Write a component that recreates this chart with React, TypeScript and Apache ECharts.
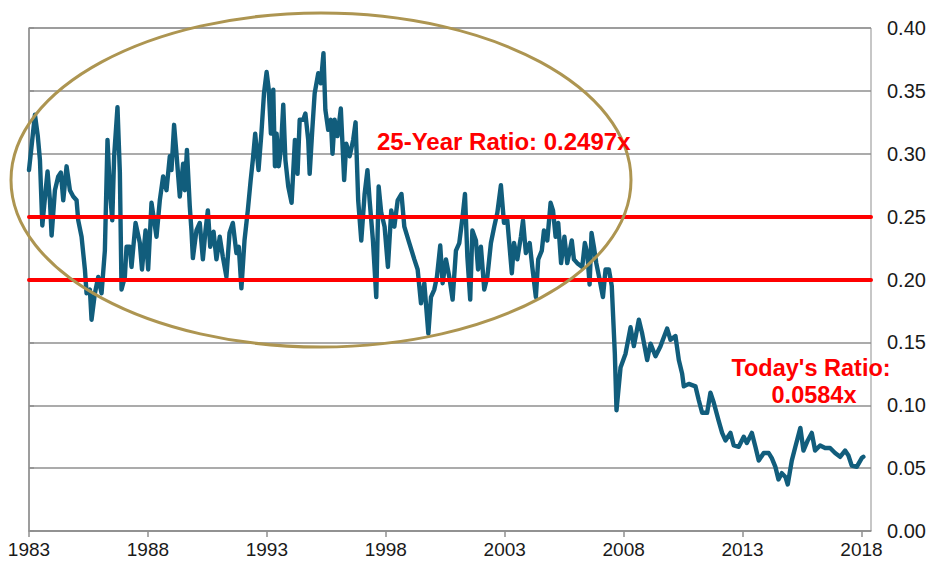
import React, { useEffect, useRef } from "react";
import * as echarts from "echarts";

const BASE_YEAR = 1983;
const yearTicks = [1983, 1988, 1993, 1998, 2003, 2008, 2013, 2018];
const yTickLabels = ["0.00", "0.05", "0.10", "0.15", "0.20", "0.25", "0.30", "0.35", "0.40"];

// years since 1983
const yearOffsets = [
  0.0, 0.25, 0.37, 0.46, 0.56, 0.7, 0.78, 0.88, 0.95, 1.09, 1.23, 1.34, 1.44, 1.58, 1.72, 1.86,
  2.0, 2.07, 2.21, 2.35, 2.42, 2.56, 2.63, 2.77, 2.91, 3.05, 3.19, 3.3, 3.4, 3.5, 3.58, 3.72,
  3.82, 3.89, 4.03, 4.1, 4.24, 4.31, 4.48, 4.66, 4.75, 4.9, 5.01, 5.15, 5.36, 5.5, 5.64, 5.78,
  5.92, 5.99, 6.1, 6.2, 6.34, 6.48, 6.55, 6.64, 6.76, 6.83, 6.89, 7.04, 7.18, 7.31, 7.42, 7.52,
  7.62, 7.76, 7.88, 8.02, 8.15, 8.3, 8.43, 8.57, 8.72, 8.82, 8.93, 9.06, 9.2, 9.32, 9.41, 9.51,
  9.65, 9.77, 9.88, 9.99, 10.08, 10.17, 10.27, 10.34, 10.41, 10.5, 10.59, 10.69, 10.78, 10.9,
  11.04, 11.18, 11.29, 11.38, 11.53, 11.62, 11.74, 11.8, 11.91, 12.01, 12.16, 12.27, 12.38,
  12.46, 12.58, 12.69, 12.76, 12.85, 12.97, 13.11, 13.25, 13.34, 13.48, 13.63, 13.73, 13.84,
  13.97, 14.11, 14.23, 14.32, 14.46, 14.6, 14.7, 14.81, 14.95, 15.09, 15.23, 15.36, 15.5, 15.66,
  15.78, 15.99, 16.2, 16.34, 16.48, 16.62, 16.79, 16.9, 17.04, 17.15, 17.29, 17.39, 17.53, 17.67,
  17.81, 17.95, 18.09, 18.23, 18.33, 18.43, 18.55, 18.64, 18.79, 18.88, 19.0, 19.14, 19.27,
  19.42, 19.56, 19.69, 19.84, 19.97, 20.11, 20.3, 20.39, 20.53, 20.68, 20.77, 20.89, 21.05,
  21.16, 21.31, 21.41, 21.56, 21.65, 21.79, 21.93, 22.03, 22.14, 22.25, 22.37, 22.51, 22.63,
  22.82, 22.91, 23.05, 23.26, 23.37, 23.47, 23.57, 23.65, 23.75, 23.85, 23.99, 24.13, 24.24,
  24.38, 24.5, 24.63, 24.7, 24.87, 25.08, 25.29, 25.43, 25.64, 25.78, 25.99, 26.13, 26.34,
  26.55, 26.83, 26.97, 27.18, 27.32, 27.46, 27.53, 27.74, 28.02, 28.16, 28.3, 28.51, 28.65,
  28.79, 28.99, 29.14, 29.28, 29.49, 29.63, 29.84, 30.05, 30.18, 30.39, 30.54, 30.68, 30.89,
  31.1, 31.23, 31.38, 31.51, 31.65, 31.8, 31.9, 32.07, 32.22, 32.43, 32.56, 32.74, 32.91, 33.05,
  33.26, 33.47, 33.68, 33.89, 34.1, 34.31, 34.45, 34.59, 34.8, 35.01, 35.08,
];

const ratios = [
  0.287, 0.331, 0.314, 0.295, 0.243, 0.271, 0.286, 0.263, 0.235, 0.271, 0.282, 0.285, 0.263, 0.29, 0.271, 0.266,
  0.263, 0.247, 0.234, 0.208, 0.189, 0.192, 0.168, 0.189, 0.202, 0.189, 0.223, 0.311, 0.271, 0.247, 0.298, 0.337,
  0.285, 0.192, 0.202, 0.226, 0.226, 0.21, 0.245, 0.229, 0.208, 0.239, 0.208, 0.261, 0.234, 0.263, 0.282, 0.271,
  0.298, 0.287, 0.323, 0.3, 0.266, 0.292, 0.271, 0.303, 0.258, 0.239, 0.217, 0.239, 0.245, 0.216, 0.239, 0.255,
  0.226, 0.238, 0.216, 0.234, 0.218, 0.202, 0.237, 0.245, 0.221, 0.226, 0.193, 0.231, 0.255, 0.279, 0.295, 0.316,
  0.287, 0.316, 0.348, 0.365, 0.351, 0.316, 0.351, 0.29, 0.316, 0.29, 0.303, 0.339, 0.295, 0.274,
  0.261, 0.311, 0.284, 0.327, 0.327, 0.332, 0.311, 0.284, 0.319, 0.348, 0.364, 0.356, 0.38,
  0.335, 0.319, 0.327, 0.3, 0.327, 0.314, 0.336, 0.279, 0.308, 0.298, 0.311, 0.325, 0.263,
  0.231, 0.268, 0.287, 0.263, 0.231, 0.186, 0.274, 0.253, 0.242, 0.21, 0.255, 0.242, 0.263, 0.268,
  0.242, 0.229, 0.216, 0.208, 0.181, 0.197, 0.157, 0.186, 0.192, 0.202, 0.227, 0.197, 0.216, 0.202,
  0.184, 0.223, 0.229, 0.25, 0.268, 0.218, 0.184, 0.239, 0.231, 0.208, 0.226, 0.192, 0.202,
  0.229, 0.242, 0.253, 0.275, 0.245, 0.247, 0.205, 0.229, 0.216, 0.234, 0.247, 0.221, 0.229,
  0.21, 0.186, 0.216, 0.223, 0.239, 0.231, 0.261, 0.255, 0.234, 0.245, 0.213, 0.234, 0.213,
  0.231, 0.216, 0.213, 0.21, 0.229, 0.221, 0.196, 0.237, 0.226, 0.213, 0.2, 0.186, 0.208,
  0.208, 0.195, 0.141, 0.096, 0.13, 0.141, 0.162, 0.147, 0.168, 0.157, 0.136, 0.149, 0.139,
  0.147, 0.161, 0.152, 0.155, 0.136, 0.125, 0.115, 0.117, 0.115, 0.104, 0.094, 0.094, 0.11,
  0.102, 0.088, 0.078, 0.072, 0.078, 0.068, 0.067, 0.075, 0.07, 0.078, 0.067, 0.056, 0.062,
  0.062, 0.058, 0.051, 0.041, 0.046, 0.043, 0.037, 0.056, 0.067, 0.082, 0.064, 0.072, 0.078, 0.064,
  0.068, 0.066, 0.066, 0.062, 0.059, 0.064, 0.06, 0.052, 0.051, 0.058, 0.059,
];

const bandLevels = [0.25, 0.2];
const annotation25 = "25-Year Ratio: 0.2497x";
const annotationToday = ["Today's Ratio:", "0.0584x"];

export default function App() {
  const ref = useRef<HTMLDivElement>(null);
  useEffect(() => {
    if (!ref.current) return;
    const chart = echarts.init(ref.current, null, { renderer: "svg" });
    const data = yearOffsets.map((t, i) => [t, ratios[i]]);
    const font = '"Liberation Sans", Arial, Helvetica, sans-serif';
    const gray = "#8f8f8f";
    chart.setOption({
      animation: false,
      backgroundColor: "#ffffff",
      grid: {
        left: 29,
        right: 63,
        top: 28,
        bottom: 36,
        show: true,
        borderColor: gray,
        borderWidth: 1,
      },
      xAxis: {
        type: "value",
        min: 0,
        max: 35.4,
        interval: 5,
        axisLine: { show: true, lineStyle: { color: gray, width: 1.5 } },
        axisTick: { show: true, length: 6, lineStyle: { color: gray, width: 1.5 } },
        splitLine: { show: false },
        axisLabel: {
          showMaxLabel: false,
          margin: 9,
          color: "#1a1a1a",
          fontSize: 19,
          fontFamily: font,
          formatter: (v: number) => {
            const y = BASE_YEAR + v;
            return yearTicks.includes(Math.round(y * 1000) / 1000) ? String(y) : "";
          },
        },
      },
      yAxis: {
        type: "value",
        position: "right",
        min: 0,
        max: 0.4,
        interval: 0.05,
        axisLine: { show: true, lineStyle: { color: gray, width: 1.5 } },
        axisTick: { show: true, length: 5, lineStyle: { color: gray, width: 1.5 } },
        splitLine: { show: true, lineStyle: { color: gray, width: 1.5 } },
        axisLabel: {
          margin: 16,
          color: "#1a1a1a",
          fontSize: 20,
          fontFamily: font,
          formatter: (v: number) => yTickLabels[Math.round(v / 0.05)] ?? v.toFixed(2),
        },
      },
      series: [
        {
          type: "line",
          data,
          showSymbol: false,
          symbol: "none",
          lineStyle: { color: "#115d7c", width: 4.4, join: "round", cap: "round" },
          z: 2,
          markLine: {
            silent: true,
            symbol: "none",
            label: { show: false },
            lineStyle: { color: "#ff0000", width: 4, type: "solid", cap: "round" },
            data: bandLevels.map((y) => ({ yAxis: y })),
            z: 5,
          },
        },
      ],
      graphic: [
        {
          type: "ellipse",
          shape: { cx: 321, cy: 180, rx: 310, ry: 167 },
          style: { fill: "none", stroke: "#ad9551", lineWidth: 3 },
          z: 100,
          silent: true,
        },
        {
          type: "text",
          x: 377,
          y: 141,
          style: {
            text: annotation25,
            fill: "#ff0000",
            font: `bold 24px ${font}`,
            textAlign: "left",
            textVerticalAlign: "middle",
          },
          z: 110,
        },
        {
          type: "text",
          x: 811,
          y: 368,
          style: {
            text: annotationToday[0],
            fill: "#ff0000",
            font: `bold 23.5px ${font}`,
            textAlign: "center",
            textVerticalAlign: "middle",
          },
          z: 110,
        },
        {
          type: "text",
          x: 814,
          y: 395,
          style: {
            text: annotationToday[1],
            fill: "#ff0000",
            font: `bold 23.5px ${font}`,
            textAlign: "center",
            textVerticalAlign: "middle",
          },
          z: 110,
        },
      ],
    });
    return () => chart.dispose();
  }, []);
  return (
    <div
      ref={ref}
      style={{ position: "fixed", left: 0, top: 0, width: 934, height: 567, background: "#fff" }}
    />
  );
}
